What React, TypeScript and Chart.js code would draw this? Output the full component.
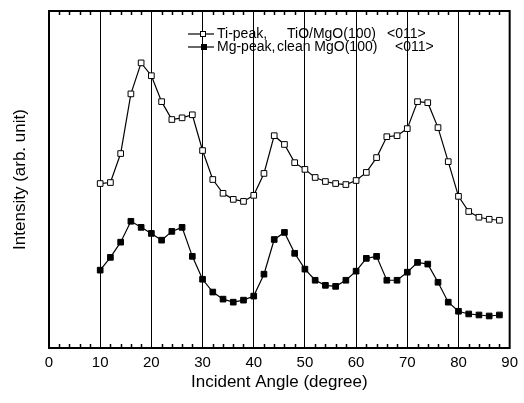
import React, { useEffect, useRef } from 'react';
import { Chart, registerables } from 'chart.js';

Chart.register(...registerables);

const angles = [10, 12, 14, 16, 18, 20, 22, 24, 26, 28, 30, 32, 34, 36, 38, 40, 42, 44, 46, 48, 50, 52, 54, 56, 58, 60, 62, 64, 66, 68, 70, 72, 74, 76, 78, 80, 82, 84, 86, 88];

const tiPeak = [48.8, 49.1, 57.7, 75.4, 84.6, 80.8, 73.1, 67.8, 68.3, 69.2, 58.6, 50.0, 45.9, 44.1, 43.5, 45.3, 51.8, 63.0, 60.4, 55.0, 53.0, 50.6, 49.4, 48.8, 48.5, 49.7, 52.1, 56.5, 62.7, 63.0, 65.1, 73.1, 72.8, 65.4, 55.3, 45.0, 40.5, 38.8, 38.2, 37.9];

const mgPeak = [23.1, 26.9, 31.4, 37.6, 35.8, 34.0, 32.0, 34.6, 35.8, 27.2, 20.4, 16.6, 14.5, 13.6, 14.2, 15.4, 21.9, 32.2, 34.3, 28.1, 23.4, 20.1, 18.6, 18.3, 20.1, 22.8, 26.6, 27.2, 20.1, 20.1, 22.5, 25.4, 24.9, 19.5, 13.6, 10.9, 10.1, 9.8, 9.5, 9.8];

const xTicks = [0, 10, 20, 30, 40, 50, 60, 70, 80, 90];
const minorTicks = [2, 4, 6, 8, 12, 14, 16, 18, 22, 24, 26, 28, 32, 34, 36, 38, 42, 44, 46, 48, 52, 54, 56, 58, 62, 64, 66, 68, 72, 74, 76, 78, 82, 84, 86, 88];

const legendSeries = ['Ti-peak,', 'Mg-peak,'];
const legendSamples = ['TiO/MgO(100)', 'clean MgO(100)'];
const legendDirections = ['<011>', '<011>'];

const FONT = '"Liberation Sans", Arial, Helvetica, sans-serif';

const framePlugin = {
  id: 'frameAndLegend',
  afterDraw(chart: any) {
    const { ctx, chartArea } = chart;
    const { left, right, top, bottom } = chartArea;
    const xs = chart.scales.x;
    ctx.save();
    ctx.strokeStyle = '#000';
    ctx.lineWidth = 1.5;
    ctx.beginPath();
    minorTicks.forEach((v) => {
      const px = Math.round(xs.getPixelForValue(v)) + 0.5;
      ctx.moveTo(px, bottom);
      ctx.lineTo(px, bottom - 4);
      ctx.moveTo(px, top);
      ctx.lineTo(px, top + 4);
    });
    ctx.stroke();
    ctx.lineWidth = 2;
    ctx.strokeRect(left, top, right - left, bottom - top);

    // legend
    const rows = [34, 47];
    const col2 = [287, 277];
    const col3 = [387, 395];
    ctx.font = `14px ${FONT}`;
    ctx.fillStyle = '#000';
    ctx.textBaseline = 'middle';
    ctx.textAlign = 'left';
    rows.forEach((y, i) => {
      ctx.lineWidth = 1.2;
      ctx.beginPath();
      ctx.moveTo(188, y);
      ctx.lineTo(214, y);
      ctx.stroke();
      ctx.lineWidth = 1;
      if (i === 0) {
        ctx.fillStyle = '#fff';
        ctx.fillRect(200.5, y - 2.5, 5, 5);
        ctx.strokeRect(200.5, y - 2.5, 5, 5);
        ctx.fillStyle = '#000';
      } else {
        ctx.fillRect(201, y - 3, 6, 6);
      }
      ctx.fillText(legendSeries[i], 217, y);
      ctx.fillText(legendSamples[i], col2[i], y);
      ctx.fillText(legendDirections[i], col3[i], y);
    });
    ctx.restore();
  },
};

export default function App() {
  const ref = useRef<HTMLCanvasElement | null>(null);
  useEffect(() => {
    if (!ref.current) return;
    Chart.defaults.font.family = FONT;
    const chart = new Chart(ref.current, {
      type: 'line',
      data: {
        datasets: [
          {
            label: 'Ti-peak, TiO/MgO(100) <011>',
            data: angles.map((a, i) => ({ x: a, y: tiPeak[i] })),
            borderColor: '#000',
            borderWidth: 1.2,
            pointStyle: 'rect',
            pointRadius: 4,
            pointBackgroundColor: '#fff',
            pointBorderColor: '#000',
            pointBorderWidth: 1,
            tension: 0,
          },
          {
            label: 'Mg-peak, clean MgO(100) <011>',
            data: angles.map((a, i) => ({ x: a, y: mgPeak[i] })),
            borderColor: '#000',
            borderWidth: 1.2,
            pointStyle: 'rect',
            pointRadius: 4,
            pointBackgroundColor: '#000',
            pointBorderColor: '#000',
            pointBorderWidth: 1,
            tension: 0,
          },
        ],
      },
      options: {
        animation: false,
        responsive: true,
        maintainAspectRatio: false,
        layout: { padding: { left: 0, right: 12, top: 11, bottom: 0 } },
        plugins: { legend: { display: false }, tooltip: { enabled: false } },
        scales: {
          x: {
            type: 'linear',
            min: 0,
            max: 90,
            afterBuildTicks: (s: any) => {
              s.ticks = xTicks.map((v) => ({ value: v }));
            },
            afterFit: (s: any) => {
              s.height = 55;
            },
            ticks: { color: '#000', font: { size: 15 }, padding: 6, maxRotation: 0, autoSkip: false },
            grid: {
              drawTicks: false,
              lineWidth: 1,
              color: (c: any) => (c.tick && c.tick.value > 0 && c.tick.value < 90 ? '#000' : 'rgba(0,0,0,0)'),
            },
            border: { display: false },
            title: { display: true, text: 'Incident Angle (degree)', color: '#000', font: { size: 17 }, padding: 10 },
          },
          y: {
            type: 'linear',
            min: 0,
            max: 100,
            afterFit: (s: any) => {
              s.width = 49;
            },
            ticks: { display: false },
            grid: { display: false, drawTicks: false },
            border: { display: false },
            title: { display: true, text: 'Intensity (arb. unit)', color: '#000', font: { size: 17 }, padding: 10 },
          },
        },
      },
      plugins: [framePlugin],
    });
    return () => chart.destroy();
  }, []);
  return (
    <div style={{ position: 'absolute', left: 0, top: 0, width: 524, height: 403, background: '#fff' }}>
      <canvas ref={ref} />
    </div>
  );
}
